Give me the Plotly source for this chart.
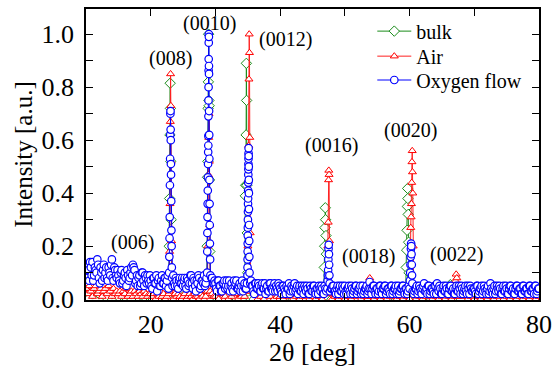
import plotly.graph_objects as go

# ---------------- data ----------------
# background scan positions (2theta, deg)
bg_x_fine = [round(10 + 0.25 * i, 2) for i in range(281)]
bg_x_half = [round(10.125 + 0.25 * i, 3) for i in range(280)]
bg_x_air_lo = [round(10 + 0.25 * i, 2) for i in range(80)]
bg_x_air_hi = [round(30 + 0.5 * i, 2) for i in range(101)]
bg_x_green = [float(10 + i) for i in range(71)]

# Oxygen flow background (0.25 deg steps, starting 10.0)
oxy_bg = [
    0.10,0.13,0.07,0.12,0.14,0.09,0.11,0.15,0.08,0.12,0.07,0.13,0.10,0.08,0.12,0.09,0.15,0.07,0.11,0.08,
    0.09,0.06,0.11,0.07,0.10,0.05,0.09,0.08,0.12,0.13,0.11,0.07,0.05,0.09,0.06,0.10,0.05,0.08,0.09,0.06,
    0.07,0.04,0.08,0.06,0.03,0.08,0.05,0.09,0.06,0.08,0.07,0.04,0.08,0.06,0.09,0.05,0.07,0.04,0.08,0.06,
    0.05,0.08,0.04,0.07,0.06,0.09,0.04,0.07,0.03,0.06,0.08,0.05,0.07,0.09,0.06,0.04,0.07,0.05,0.08,0.06,
    0.06,0.03,0.07,0.05,0.03,0.06,0.04,0.07,0.05,0.03,0.06,0.03,0.05,0.07,0.04,0.06,0.05,0.03,0.06,0.04,
    0.05,0.04,0.07,0.05,0.02,0.06,0.04,0.05,0.03,0.06,0.04,0.02,0.05,0.03,0.06,0.04,0.05,0.03,0.04,0.06,
    0.04,0.02,0.05,0.03,0.05,0.04,0.02,0.05,0.03,0.06,0.04,0.02,0.05,0.03,0.04,0.05,0.03,0.04,0.02,0.04,
    0.03,0.05,0.02,0.04,0.05,0.03,0.04,0.02,0.04,0.03,0.05,0.02,0.04,0.05,0.03,0.04,0.02,0.05,0.03,0.04,
    0.05,0.02,0.04,0.03,0.05,0.02,0.04,0.05,0.03,0.04,0.02,0.05,0.03,0.04,0.02,0.05,0.03,0.04,0.05,0.02,
    0.04,0.03,0.05,0.02,0.04,0.05,0.03,0.04,0.02,0.05,0.03,0.04,0.02,0.05,0.03,0.04,0.05,0.02,0.04,0.03,
    0.04,0.02,0.05,0.03,0.04,0.02,0.05,0.03,0.04,0.06,0.03,0.02,0.05,0.03,0.04,0.02,0.05,0.06,0.03,0.04,
    0.02,0.05,0.03,0.04,0.02,0.05,0.03,0.04,0.02,0.05,0.03,0.04,0.05,0.02,0.04,0.03,0.05,0.02,0.04,0.03,
    0.04,0.02,0.05,0.03,0.04,0.02,0.05,0.03,0.04,0.02,0.06,0.03,0.04,0.02,0.05,0.03,0.04,0.02,0.05,0.03,
    0.04,0.02,0.05,0.03,0.04,0.02,0.05,0.03,0.04,0.02,0.05,0.03,0.04,0.02,0.05,0.03,0.04,0.02,0.05,0.03,
    0.04,
]

# Oxygen flow background, intermediate scan points (starting 10.125)
oxy_bg_half = [
    0.08,0.11,0.14,0.09,0.07,0.12,0.10,0.13,0.06,0.10,0.11,0.08,0.12,0.07,0.10,0.13,0.08,0.12,0.09,0.11,
    0.07,0.10,0.06,0.09,0.08,0.11,0.07,0.10,0.09,0.12,0.06,0.09,0.08,0.05,0.10,0.07,0.09,0.06,0.07,0.09,
    0.05,0.08,0.06,0.09,0.07,0.05,0.07,0.06,0.08,0.05,0.09,0.06,0.07,0.05,0.06,0.08,0.05,0.07,0.06,0.08,
    0.07,0.05,0.08,0.05,0.09,0.06,0.08,0.05,0.07,0.09,0.04,0.07,0.06,0.05,0.08,0.06,0.05,0.08,0.06,0.07,
    0.04,0.07,0.05,0.03,0.06,0.07,0.05,0.04,0.07,0.05,0.04,0.07,0.06,0.04,0.05,0.03,0.07,0.05,0.04,0.06,
    0.03,0.06,0.05,0.03,0.06,0.04,0.06,0.03,0.05,0.04,0.06,0.04,0.03,0.06,0.04,0.03,0.06,0.05,0.03,0.05,
    0.03,0.05,0.04,0.02,0.04,0.06,0.03,0.04,0.05,0.03,0.05,0.04,0.03,0.05,0.02,0.04,0.05,0.02,0.05,0.03,
    0.05,0.03,0.04,0.02,0.04,0.05,0.02,0.05,0.03,0.04,0.02,0.04,0.05,0.03,0.02,0.05,0.04,0.03,0.05,0.02,
    0.03,0.04,0.05,0.02,0.04,0.03,0.05,0.02,0.04,0.05,0.03,0.02,0.04,0.05,0.03,0.04,0.02,0.05,0.03,0.04,
    0.02,0.05,0.03,0.04,0.05,0.02,0.04,0.03,0.05,0.02,0.04,0.05,0.03,0.02,0.04,0.05,0.03,0.04,0.02,0.05,
    0.03,0.05,0.02,0.04,0.05,0.03,0.04,0.02,0.05,0.03,0.04,0.05,0.02,0.04,0.03,0.05,0.02,0.04,0.05,0.02,
    0.04,0.03,0.05,0.02,0.04,0.05,0.03,0.02,0.04,0.03,0.05,0.02,0.04,0.03,0.05,0.02,0.04,0.05,0.03,0.04,
    0.03,0.05,0.02,0.04,0.05,0.03,0.04,0.02,0.05,0.03,0.04,0.02,0.05,0.03,0.04,0.05,0.02,0.04,0.03,0.05,
    0.02,0.04,0.05,0.03,0.02,0.04,0.05,0.03,0.04,0.02,0.05,0.03,0.04,0.02,0.05,0.03,0.04,0.05,0.02,0.04,
]

# Air background, 10-29.75 deg (0.25 deg steps)
air_bg_lo = [
    0.04,0.02,0.05,0.03,0.01,0.04,0.05,0.02,0.03,0.04,0.01,0.03,0.04,0.02,0.05,0.03,0.01,0.04,0.02,0.03,
    0.02,0.03,0.01,0.03,0.02,0.04,0.01,0.02,0.03,0.01,0.03,0.02,0.01,0.03,0.02,0.01,0.03,0.02,0.01,0.02,
    0.02,0.01,0.02,0.00,0.02,0.01,0.03,0.01,0.02,0.00,0.01,0.02,0.01,0.02,0.00,0.02,0.01,0.02,0.01,0.00,
    0.01,0.02,0.00,0.01,0.02,0.01,0.00,0.02,0.01,0.01,0.00,0.02,0.01,0.00,0.01,0.02,0.00,0.01,0.02,0.01,
]
# Air background, 30-80 deg (0.5 deg steps)
air_bg_hi = [
    0.01,0.00,0.02,0.01,0.00,0.01,0.02,0.00,0.01,0.01,
    0.00,0.01,0.02,0.00,0.01,0.00,0.02,0.01,0.00,0.01,
    0.01,0.00,0.01,0.02,0.00,0.01,0.00,0.01,0.02,0.00,
    0.01,0.00,0.01,0.00,0.02,0.01,0.00,0.01,0.00,0.01,
    0.00,0.01,0.00,0.01,0.02,0.00,0.01,0.00,0.01,0.00,
    0.01,0.00,0.01,0.00,0.01,0.02,0.00,0.01,0.00,0.01,
    0.00,0.01,0.00,0.01,0.00,0.01,0.02,0.00,0.01,0.00,
    0.01,0.00,0.01,0.00,0.01,0.00,0.01,0.02,0.00,0.01,
    0.00,0.01,0.00,0.01,0.00,0.01,0.00,0.01,0.02,0.00,
    0.01,0.00,0.01,0.00,0.01,0.00,0.01,0.00,0.01,0.00,
    0.01,
]

# bulk background (1 deg steps)
bulk_bg = [
    0.03,0.02,0.02,0.01,0.02,0.01,0.01,0.02,0.01,0.01,
    0.01,0.02,0.01,0.00,0.01,0.01,0.00,0.01,0.01,0.00,
    0.01,0.00,0.01,0.01,0.00,0.01,0.00,0.01,0.00,0.01,
    0.00,0.01,0.00,0.01,0.00,0.01,0.00,0.01,0.00,0.01,
    0.00,0.01,0.00,0.01,0.00,0.01,0.00,0.01,0.00,0.01,
    0.00,0.01,0.00,0.01,0.00,0.01,0.00,0.01,0.00,0.01,
    0.00,0.01,0.00,0.01,0.00,0.01,0.00,0.01,0.00,0.01,
    0.00,
]

# Peak profiles (2theta, intensity)
oxy_peaks = [
    ([22.85,22.88,22.91,22.94,22.97,23.00,23.02,23.04,23.06,23.08,23.10,23.12,23.14,23.17,23.20,23.23,23.26,23.30],
     [0.10,0.16,0.23,0.31,0.43,0.53,0.62,0.70,0.71,0.64,0.60,0.51,0.47,0.37,0.26,0.20,0.12,0.08]),
    ([28.72,28.74,28.76,28.78,28.80,28.82,28.84,28.86,28.88,28.90,28.91,28.92,28.93,28.94,28.95,28.96,28.97,28.98,
      28.99,29.00,29.01,29.02,29.04,29.06,29.08,29.10,29.12,29.15,29.18,29.22],
     [0.10,0.18,0.25,0.31,0.36,0.41,0.46,0.51,0.555,0.58,0.616,0.69,0.75,0.80,0.863,0.906,0.968,1.00,
      0.99,0.88,0.85,0.71,0.62,0.53,0.45,0.36,0.28,0.21,0.15,0.09]),
    ([34.95,34.96,34.97,34.98,34.99,35.00,35.01,35.02,35.03,35.04,35.05,35.06,35.07,35.08,35.09,35.10,35.11,35.12,35.13,
      35.14,35.15,35.16,35.17,35.18,35.20,35.22,35.24,35.27],
     [0.09,0.12,0.15,0.18,0.21,0.24,0.27,0.30,0.33,0.36,0.38,0.41,0.44,0.47,0.49,0.51,0.53,0.55,0.57,
      0.54,0.50,0.45,0.40,0.34,0.28,0.22,0.16,0.10]),
    ([47.30,47.34,47.38,47.42,47.45,47.48,47.51,47.54,47.57,47.61,47.65,47.70],
     [0.04,0.07,0.09,0.11,0.15,0.19,0.205,0.17,0.13,0.09,0.06,0.03]),
    ([53.70,53.82,53.95], [0.04,0.065,0.04]),
    ([60.00,60.05,60.10,60.14,60.18,60.21,60.24,60.27,60.30,60.34,60.38,60.43,60.48],
     [0.04,0.07,0.10,0.13,0.16,0.19,0.21,0.20,0.17,0.13,0.09,0.06,0.03]),
]

air_peaks = [
    ([22.85,22.92,22.98,23.03,23.07,23.11,23.16,23.22,23.28],
     [0.03,0.18,0.36,0.67,0.85,0.73,0.52,0.22,0.04]),
    ([28.75,28.83,28.90,28.96,29.01,29.06,29.12,29.20],
     [0.03,0.20,0.47,0.61,0.70,0.52,0.28,0.03]),
    ([34.95,35.02,35.08,35.13,35.18,35.22,35.26,35.31,35.37,35.45],
     [0.03,0.20,0.45,0.58,0.83,1.00,0.93,0.61,0.25,0.03]),
    ([47.30,47.37,47.43,47.48,47.52,47.56,47.62,47.70],
     [0.03,0.20,0.29,0.45,0.486,0.47,0.22,0.02]),
    ([53.60,53.75,53.85,54.00], [0.01,0.06,0.08,0.01]),
    ([60.10,60.18,60.24,60.29,60.33,60.37,60.41,60.45,60.50,60.56,60.64],
     [0.03,0.27,0.31,0.36,0.44,0.518,0.56,0.48,0.40,0.20,0.03]),
    ([66.95,67.10,67.20,67.30,67.45], [0.01,0.07,0.094,0.08,0.01]),
]

bulk_peaks = [
    ([22.80,22.86,22.92,22.97,23.01,23.05,23.10,23.16,23.22],
     [0.05,0.20,0.38,0.62,0.815,0.72,0.52,0.30,0.08]),
    ([28.65,28.72,28.78,28.83,28.87,28.91,28.95,28.99,29.03,29.08,29.14,29.20],
     [0.04,0.20,0.46,0.52,0.72,0.82,1.00,0.75,0.73,0.45,0.18,0.04]),
    ([34.55,34.62,34.68,34.74,34.78,34.82,34.86,34.92,34.98,35.05],
     [0.04,0.39,0.43,0.62,0.89,0.75,0.43,0.25,0.10,0.03]),
    ([46.75,46.82,46.88,46.93,46.98,47.03,47.08,47.14,47.20],
     [0.03,0.12,0.20,0.27,0.345,0.30,0.24,0.17,0.05]),
    ([59.40,59.48,59.55,59.61,59.66,59.70,59.74,59.79,59.85,59.92,60.00],
     [0.03,0.12,0.185,0.26,0.35,0.418,0.38,0.32,0.215,0.10,0.03]),
    ([66.10,66.30,66.50], [0.01,0.055,0.01]),
]

series_names = ["bulk", "Air", "Oxygen flow"]

peak_labels = ["(006)", "(008)", "(0010)", "(0012)", "(0016)", "(0018)", "(0020)", "(0022)"]
label_x = [17.2, 23.1, 29.1, 40.8, 48.0, 53.6, 60.2, 67.2]
label_y = [0.215, 0.91, 1.04, 0.98, 0.58, 0.16, 0.637, 0.17]


def assemble(bx, by, peaks):
    pts = []
    for x, y in zip(bx, by):
        if any(min(px) - 0.05 <= x <= max(px) + 0.05 for px, _ in peaks):
            continue
        pts.append((x, y))
    for px, py in peaks:
        pts.extend(zip(px, py))
    pts.sort(key=lambda p: p[0])
    return [p[0] for p in pts], [p[1] for p in pts]


bulk_x, bulk_y = assemble(bg_x_green, bulk_bg, bulk_peaks)
air_x, air_y = assemble(bg_x_air_lo + bg_x_air_hi, air_bg_lo + air_bg_hi, air_peaks)
oxy_x, oxy_y = assemble(bg_x_fine + bg_x_half, oxy_bg + oxy_bg_half, oxy_peaks)

FONT = "Times New Roman, Liberation Serif, serif"

fig = go.Figure()
fig.add_trace(go.Scatter(
    x=bulk_x, y=bulk_y, mode="lines+markers", name=series_names[0], legend="legend",
    line=dict(color="#1a8c1a", width=1),
    marker=dict(symbol="diamond", size=8, color="white", line=dict(color="#1a8c1a", width=1)),
))
fig.add_trace(go.Scatter(
    x=air_x, y=air_y, mode="lines+markers", name=series_names[1], legend="legend2",
    line=dict(color="#ff2020", width=1),
    marker=dict(symbol="triangle-up", size=7, color="white", line=dict(color="#ff0000", width=1)),
))
fig.add_trace(go.Scatter(
    x=oxy_x, y=oxy_y, mode="lines+markers", name=series_names[2], legend="legend3",
    line=dict(color="#0000ff", width=1),
    marker=dict(symbol="circle", size=7.5, color="white", line=dict(color="#0000ff", width=1.2)),
))

for t, x, y in zip(peak_labels, label_x, label_y):
    fig.add_annotation(x=x, y=y, xref="x", yref="y", text=t, showarrow=False,
                       font=dict(family=FONT, size=20, color="black"))

axis_common = dict(
    showline=True, linecolor="black", linewidth=1.5, mirror="ticks",
    ticks="inside", ticklen=7, tickwidth=1.2, tickcolor="black",
    showgrid=False, zeroline=False,
    tickfont=dict(family=FONT, size=26, color="black"),
)

fig.update_xaxes(
    range=[10, 80], tick0=0, dtick=20,
    minor=dict(dtick=10, ticks="inside", ticklen=7, tickcolor="black", tickwidth=1.2),
    title=dict(text="2θ [deg]", font=dict(family=FONT, size=26, color="black"), standoff=3),
    **axis_common,
)
fig.update_yaxes(
    range=[-0.003, 1.095], tick0=0, dtick=0.2, tickformat=".1f",
    minor=dict(dtick=0.1, ticks="inside", ticklen=7, tickcolor="black", tickwidth=1.2),
    title=dict(text="Intensity [a.u.]", font=dict(family=FONT, size=25, color="black"), standoff=2),
    ticklabelstandoff=5,
    **axis_common,
)

leg_common = dict(x=0.632, xanchor="left", yanchor="middle",
                  bgcolor="rgba(0,0,0,0)", borderwidth=0,
                  font=dict(family=FONT, size=20, color="black"), itemwidth=34)

fig.update_layout(
    width=559, height=367,
    font=dict(family=FONT, color="black"),
    margin=dict(l=86, r=14, t=7, b=63),
    paper_bgcolor="white", plot_bgcolor="white",
    showlegend=True,
    legend=dict(y=0.924, **leg_common),
    legend2=dict(y=0.838, **leg_common),
    legend3=dict(y=0.756, **leg_common),
)

fig.write_html("out.html", post_script="document.body.style.margin='0';",
               config={"displayModeBar": False})
